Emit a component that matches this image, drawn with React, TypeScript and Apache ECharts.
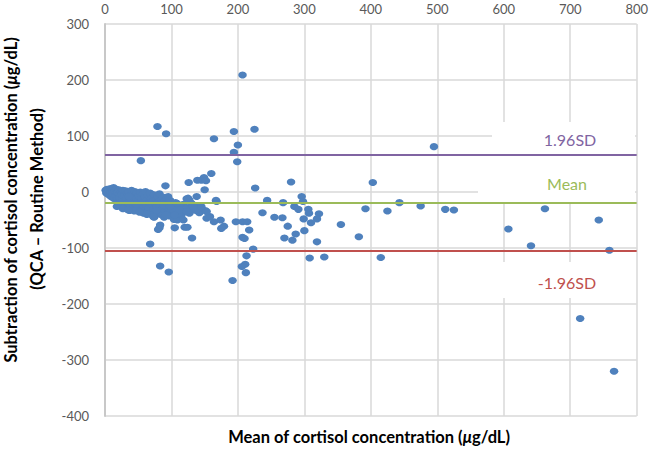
import React, { useEffect, useRef } from "react";
import * as echarts from "echarts";

// Bland–Altman data: [mean of methods, difference (QCA - Routine)]
const clusterPoints: [number, number][] = [
  [1, 3], [2, -2], [3, 5], [4, 1], [5, -4], [6, 3], [7, -6], [8, 6], [9, 0], [10, -9],
  [11, 4], [12, -3], [13, 8], [14, -12], [15, 2], [16, -7], [17, 5], [18, -15], [19, -1], [20, -20],
  [21, 4], [22, -10], [23, -25], [24, 1], [25, -5], [26, -17], [27, 3], [28, -22], [29, -8], [30, -27],
  [31, 2], [32, -13], [33, -30], [34, -3], [35, -19], [36, 0], [37, -33], [38, -9], [39, -24], [40, 3],
  [41, -15], [42, -28], [43, -5], [44, -20], [45, 1], [46, -31], [47, -11], [48, -2], [49, -25], [50, -16],
  [51, -7], [52, -29], [53, 0], [54, -21], [55, -12], [56, -33], [57, -4], [58, -18], [59, -26], [60, -9],
  [61, 1], [62, -23], [63, -14], [64, -35], [65, -6], [66, -28], [67, -19], [68, -2], [69, -38], [70, -11],
  [71, -24], [72, -16], [73, -31], [74, -5], [75, -42], [76, -21], [77, -13], [78, -27], [79, -8], [80, -35],
  [81, -18], [82, -3], [83, -25], [84, -40], [85, -14], [86, -30], [87, -9], [88, -22], [89, -45], [90, -17],
  [91, -34], [92, -26], [93, -12], [94, -38], [95, -20], [96, -29], [97, -43], [98, -15], [100, -33], [102, -24],
  [104, -40], [106, -19], [108, -30], [110, -36], [112, -27], [115, -42], [118, -22], [121, -33], [124, -28],
  [127, -38], [130, -20], [134, -31], [138, -25], [142, -37],
  [18, -26], [27, -30], [44, -34], [58, -38], [71, -41], [52, -36], [63, -40], [36, -8], [47, -22], [77, -33],
];

const scatterPoints: [number, number][] = [
  [79, 117], [92, 104], [54, 56], [164, 95], [194, 108], [200, 84], [194, 71], [199, 54], [225, 112], [207, 209],
  [160, 33], [149, 26], [145, 21], [139, 21], [152, 20], [126, 17], [150, 4], [91, 11], [226, 7], [280, 18],
  [403, 17], [495, 81],
  [167, -15], [244, -15], [268, -19], [296, -8], [298, -17], [285, -26], [291, -31], [306, -31], [307, -38],
  [322, -39], [319, -48], [299, -48], [310, -55], [300, -69],
  [237, -37], [255, -45], [267, -46], [275, -61], [270, -82], [282, -86], [287, -75], [319, -89], [308, -118], [330, -116],
  [151, -33], [153, -47], [164, -53], [174, -50], [179, -61], [175, -65], [158, -44],
  [197, -53], [207, -53], [214, -53], [217, -68], [207, -81], [210, -83], [223, -102], [213, -114], [211, -129],
  [206, -133], [212, -144], [192, -158],
  [83, -132], [96, -143], [68, -93], [74, -45], [82, -64], [80, -67], [105, -64], [120, -63], [124, -63], [131, -82],
  [104, -49], [109, -50], [118, -50],
  [123, -12], [127, -15], [137, -33], [132, -25], [111, -38], [103, -32], [92, -41], [125, -11], [138, -8],
  [145, -26], [153, -35], [168, -17], [88, -23], [95, -8], [98, -26], [105, -41], [113, -32], [123, -35], [133, -26],
  [108, -20], [83, -59], [73, -44], [35, -32],
  [355, -58], [382, -80], [392, -30], [425, -34], [443, -19], [475, -25], [512, -31], [525, -32], [415, -117],
  [607, -66], [641, -96], [662, -30], [743, -50], [759, -104], [715, -226], [766, -320],
];

const meanDiff = -19.5;
const upperLimit = 65.8;
const lowerLimit = -104.8;

const xTicks = { min: 0, max: 800, interval: 100 };
const yTicks = { min: -400, max: 300, interval: 100 };

const FONT = "Lato, 'Open Sans', sans-serif";
const TITLE_SIZE = 16.5;

export default function App() {
  const ref = useRef<HTMLDivElement>(null);

  useEffect(() => {
    if (!ref.current) return;
    const chart = echarts.init(ref.current, undefined, { renderer: "svg" });
    const allPoints = [...clusterPoints, ...scatterPoints];
    const titleRich = {
      a: { fontSize: TITLE_SIZE, fontWeight: "bold", fontFamily: FONT, fill: "#000000" },
      i: { fontSize: TITLE_SIZE, fontWeight: "bold", fontStyle: "italic", fontFamily: FONT, fill: "#000000" },
    };

    chart.setOption({
      animation: false,
      backgroundColor: "#ffffff",
      grid: { left: 105, right: 14, top: 24, bottom: 34, containLabel: false },
      xAxis: {
        type: "value",
        position: "top",
        min: xTicks.min,
        max: xTicks.max,
        interval: xTicks.interval,
        axisLine: { show: false },
        axisTick: { show: false },
        axisLabel: { color: "#595959", fontSize: 13, fontFamily: FONT, margin: 9 },
        splitLine: { show: true, lineStyle: { color: "#d9d9d9", width: 1.5 } },
      },
      yAxis: {
        type: "value",
        min: yTicks.min,
        max: yTicks.max,
        interval: yTicks.interval,
        axisLine: { show: true, onZero: false, lineStyle: { color: "#c8c8c8", width: 2 } },
        axisTick: { show: false },
        axisLabel: { color: "#595959", fontSize: 13, fontFamily: FONT, margin: 16 },
        splitLine: { show: true, lineStyle: { color: "#d9d9d9", width: 1.5 } },
      },
      series: [
        {
          type: "scatter",
          z: 2,
          data: allPoints,
          symbol: "circle",
          symbolSize: [8.5, 7],
          itemStyle: { color: "#4F81BD", opacity: 1 },
          markLine: {
            silent: true,
            symbol: "none",
            label: { show: false },
            data: [
              { yAxis: upperLimit, lineStyle: { color: "#8064A2", width: 2, type: "solid" } },
              { yAxis: meanDiff, lineStyle: { color: "#9BBB59", width: 2, type: "solid" } },
              { yAxis: lowerLimit, lineStyle: { color: "#C0504D", width: 2, type: "solid" } },
            ],
          },
        },
      ],
      graphic: [
        { type: "rect", z: 1, silent: true, shape: { x: 492, y: 122, width: 143, height: 43 }, style: { fill: "#ffffff" } },
        { type: "rect", z: 1, silent: true, shape: { x: 478, y: 165, width: 157, height: 38 }, style: { fill: "#ffffff" } },
        { type: "rect", z: 1, silent: true, shape: { x: 480, y: 262, width: 155, height: 36 }, style: { fill: "#ffffff" } },
        {
          type: "text", z: 5, x: 570, y: 139,
          style: { text: "1.96SD", fill: "#8064A2", font: `16px ${FONT}`, align: "center", verticalAlign: "middle" },
        },
        {
          type: "text", z: 5, x: 567, y: 183,
          style: { text: "Mean", fill: "#9BBB59", font: `16px ${FONT}`, align: "center", verticalAlign: "middle" },
        },
        {
          type: "text", z: 5, x: 567, y: 282,
          style: { text: "-1.96SD", fill: "#C0504D", font: `16px ${FONT}`, align: "center", verticalAlign: "middle" },
        },
        {
          type: "text", z: 5, x: 369, y: 437,
          style: {
            text: "{a|Mean of cortisol concentration (}{i|μ}{a|g/dL)}",
            align: "center", verticalAlign: "middle",
            rich: titleRich,
          },
        },
        {
          type: "text", z: 5, x: 11, y: 200, rotation: Math.PI / 2,
          style: {
            text: "{a|Subtraction of cortisol concentration (}{i|μ}{a|g/dL)}",
            align: "center", verticalAlign: "middle",
            rich: titleRich,
          },
        },
        {
          type: "text", z: 5, x: 37, y: 199, rotation: Math.PI / 2,
          style: {
            text: "(QCA – Routine Method)",
            fill: "#000000",
            font: `bold ${TITLE_SIZE}px ${FONT}`,
            align: "center", verticalAlign: "middle",
          },
        },
      ],
    });

    return () => chart.dispose();
  }, []);

  return (
    <div
      ref={ref}
      style={{ position: "fixed", left: 0, top: 0, width: 651, height: 450 }}
    />
  );
}
